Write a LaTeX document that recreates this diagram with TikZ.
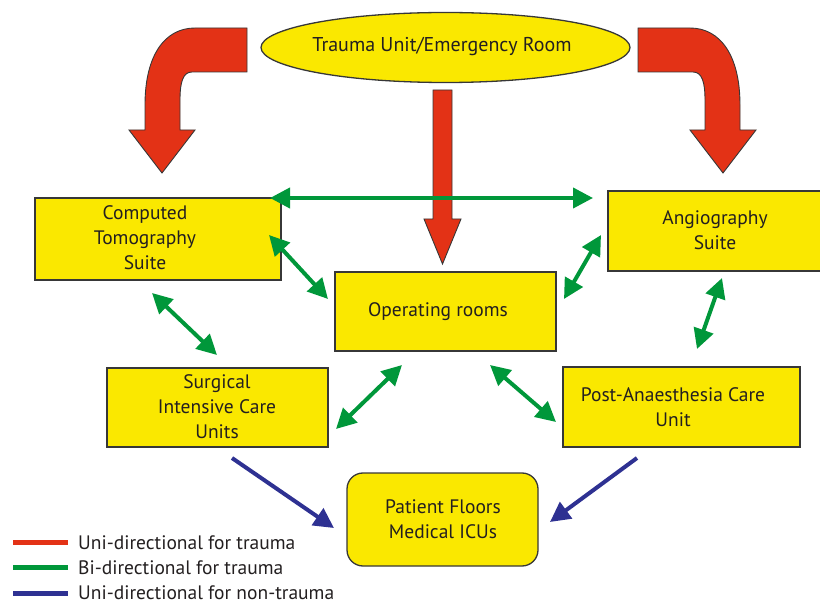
\documentclass[tikz,border=0pt]{standalone}
\usepackage{fontspec}
\setmainfont{PT Sans}
\usetikzlibrary{arrows.meta,shapes.geometric}
\definecolor{boxyellow}{RGB}{250,232,0}
\definecolor{arrred}{RGB}{227,50,22}
\definecolor{arrgreen}{RGB}{0,151,58}
\definecolor{arrblue}{RGB}{46,49,146}
\definecolor{edgegray}{RGB}{55,55,55}
\definecolor{txtcol}{RGB}{35,31,32}
\tikzset{
  box/.style={draw=edgegray, line width=1.3pt, fill=boxyellow, inner sep=0pt},
  txt/.style={font=\fontsize{19.5}{25}\selectfont, align=center, text=txtcol, inner sep=0pt},
  legtxt/.style={font=\fontsize{19.5}{22}\selectfont, text=txtcol, anchor=west, inner sep=0pt},
  grn/.style={draw=arrgreen, line width=4pt, {Triangle[length=20pt,width=20pt]}-{Triangle[length=20pt,width=20pt]}},
  blu/.style={draw=arrblue, line width=4pt, -{Triangle[length=20pt,width=20pt]}},
  redarrow/.style={fill=arrred, draw=edgegray, line width=0.9pt, line join=miter},
  legline/.style={line width=5pt}
}
\begin{document}
\begin{tikzpicture}[x=1pt,y=-1pt]
\useasboundingbox (0,0) rectangle (820,604);

% red arrows
\draw[redarrow] (247,28) -- (247,72) -- (192,72) .. controls (183,72) and (180,82) .. (180,100)
  -- (180,130) -- (195,130) -- (162,173) -- (129,130) -- (145,130) -- (145,105)
  .. controls (145,55) and (165,28) .. (195,28) -- cycle;
\draw[redarrow] (638,28) -- (638,72) -- (693,72) .. controls (702,72) and (705,82) .. (705,100)
  -- (705,130) -- (690,130) -- (723,173) -- (756,130) -- (740,130) -- (740,105)
  .. controls (740,55) and (720,28) .. (690,28) -- cycle;
\draw[redarrow] (433,90) -- (452,90) -- (452,219) -- (461,219) -- (442.5,264) -- (424,219) -- (433,219) -- cycle;

% top ellipse
\node[box, ellipse, minimum width=369pt, minimum height=70pt] (er) at (445.5,47.5) {};
\node[txt, font=\fontsize{20}{25}\selectfont] (er-t) at (442,47) {Trauma Unit/Emergency Room};

% boxes
\node[box, minimum width=246pt, minimum height=82pt] (ct) at (158,239) {};
\node[txt] (ct-t) at (145,238) {Computed\\Tomography\\Suite};
\node[box, minimum width=222pt, minimum height=80pt] (ang) at (719,231) {};
\node[txt] (ang-t) at (715,230) {Angiography\\Suite};
\node[box, minimum width=221pt, minimum height=79pt] (or) at (445.5,311.5) {};
\node[txt] (or-t) at (438,312) {Operating rooms};
\node[box, minimum width=221pt, minimum height=79pt] (sicu) at (217.5,407.5) {};
\node[txt] (sicu-t) at (217,407) {Surgical\\Intensive Care\\Units};
\node[box, minimum width=237pt, minimum height=80pt] (pacu) at (681.5,407) {};
\node[txt] (pacu-t) at (673,407) {Post-Anaesthesia Care\\Unit};
\node[box, rounded corners=16pt, minimum width=191pt, minimum height=93pt] (pf) at (442.5,519.5) {};
\node[txt] (pf-t) at (443,519) {Patient Floors\\Medical ICUs};

% green arrow end points
\coordinate (g1a) at (270,198); \coordinate (g1b) at (593,198);
\coordinate (g2a) at (269,235); \coordinate (g2b) at (328,299);
\coordinate (g3a) at (152,293); \coordinate (g3b) at (217,355);
\coordinate (g4a) at (336,429); \coordinate (g4b) at (402,365);
\coordinate (g5a) at (490,365); \coordinate (g5b) at (556,422);
\coordinate (g6a) at (564,299); \coordinate (g6b) at (601,235);
\coordinate (g7a) at (697,349); \coordinate (g7b) at (722,278);
\draw[grn] (g1a) -- (g1b);
\draw[grn] (g2a) -- (g2b);
\draw[grn] (g3a) -- (g3b);
\draw[grn] (g4a) -- (g4b);
\draw[grn] (g5a) -- (g5b);
\draw[grn] (g6a) -- (g6b);
\draw[grn] (g7a) -- (g7b);

% blue arrows
\coordinate (b1a) at (232,458); \coordinate (b1b) at (334,528);
\coordinate (b2a) at (637,458); \coordinate (b2b) at (550,522);
\draw[blu] (b1a) -- (b1b);
\draw[blu] (b2a) -- (b2b);

% legend
\coordinate (l1a) at (13,542); \coordinate (l1b) at (68,542);
\coordinate (l2a) at (13,567); \coordinate (l2b) at (68,567);
\coordinate (l3a) at (13,593); \coordinate (l3b) at (68,593);
\draw[legline, draw=arrred] (l1a) -- (l1b);
\draw[legline, draw=arrgreen] (l2a) -- (l2b);
\draw[legline, draw=arrblue] (l3a) -- (l3b);
\node[legtxt] (leg1) at (78,543) {Uni-directional for trauma};
\node[legtxt] (leg2) at (78,568) {Bi-directional for trauma};
\node[legtxt] (leg3) at (78,593) {Uni-directional for non-trauma};
\end{tikzpicture}
\end{document}
